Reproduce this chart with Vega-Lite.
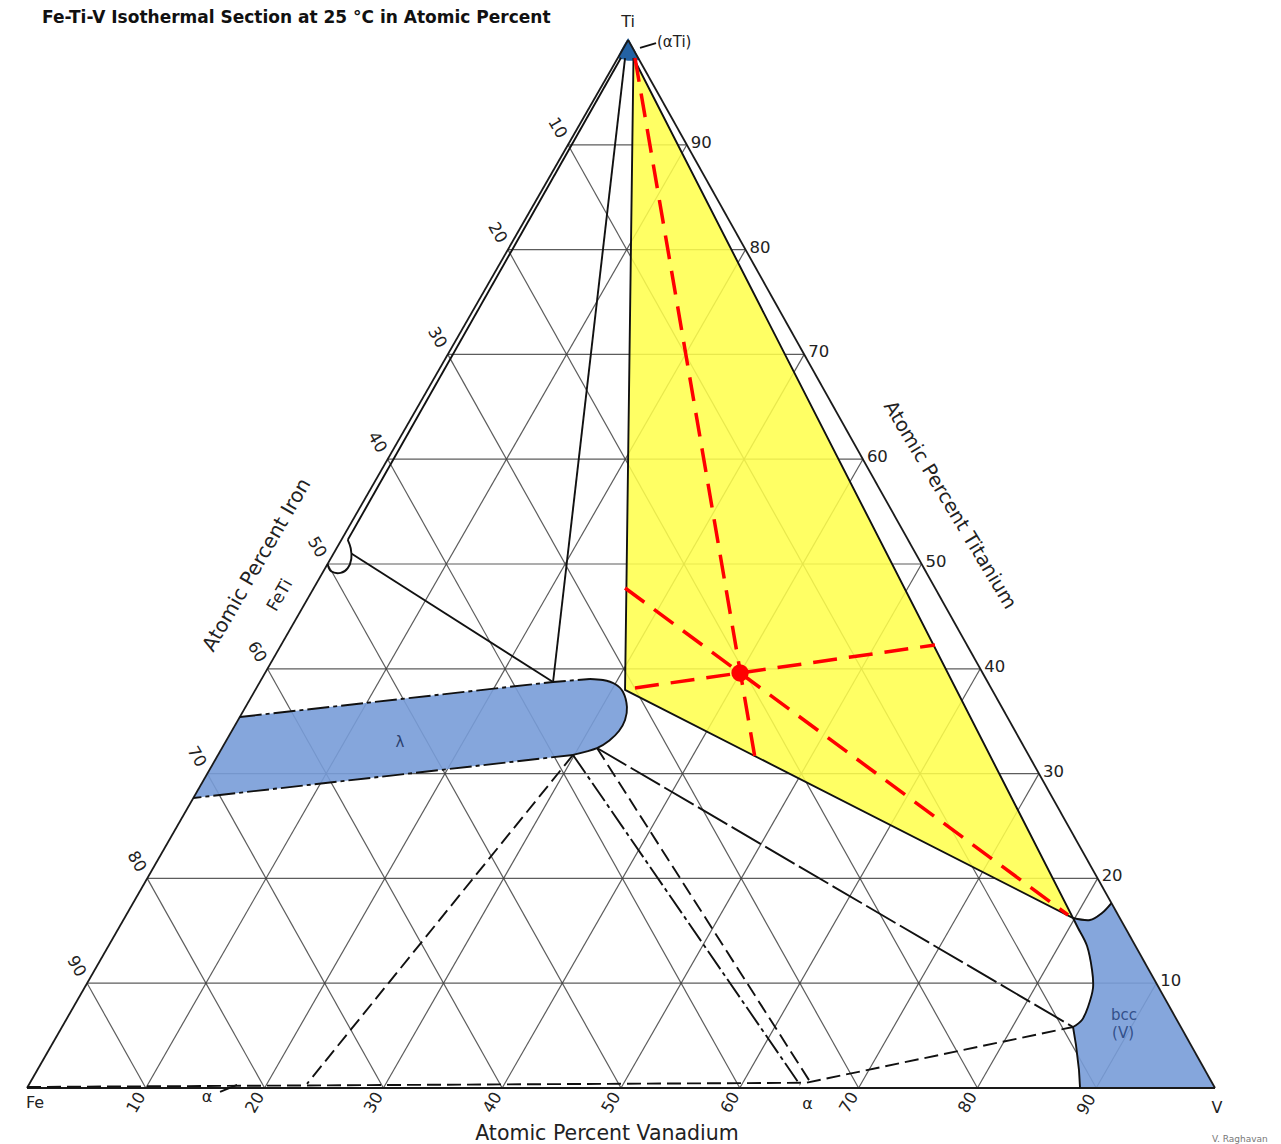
{
  "$schema": "https://vega.github.io/schema/vega-lite/v6.json",
  "width": 1188,
  "height": 1048,
  "autosize": {"type": "none"},
  "padding": {"left": 27, "top": 40, "right": 66, "bottom": 56},
  "background": "white",
  "config": {"view": {"stroke": null}, "text": {"font": "DejaVu Sans", "color": "#222"}},
  "datasets": {
    "grid": [
      {"x": 5.06, "y": 10, "x2": 95.06, "y2": 10},
      {"x": 10.12, "y": 20, "x2": 90.12, "y2": 20},
      {"x": 15.18, "y": 30, "x2": 85.18, "y2": 30},
      {"x": 20.24, "y": 40, "x2": 80.24, "y2": 40},
      {"x": 25.3, "y": 50, "x2": 75.3, "y2": 50},
      {"x": 30.36, "y": 60, "x2": 70.36, "y2": 60},
      {"x": 35.42, "y": 70, "x2": 65.42, "y2": 70},
      {"x": 40.48, "y": 80, "x2": 60.48, "y2": 80},
      {"x": 45.54, "y": 90, "x2": 55.54, "y2": 90},
      {"x": 10, "y": 0, "x2": 55.54, "y2": 90},
      {"x": 20, "y": 0, "x2": 60.48, "y2": 80},
      {"x": 30, "y": 0, "x2": 65.42, "y2": 70},
      {"x": 40, "y": 0, "x2": 70.36, "y2": 60},
      {"x": 50, "y": 0, "x2": 75.3, "y2": 50},
      {"x": 60, "y": 0, "x2": 80.24, "y2": 40},
      {"x": 70, "y": 0, "x2": 85.18, "y2": 30},
      {"x": 80, "y": 0, "x2": 90.12, "y2": 20},
      {"x": 90, "y": 0, "x2": 95.06, "y2": 10},
      {"x": 90, "y": 0, "x2": 45.54, "y2": 90},
      {"x": 80, "y": 0, "x2": 40.48, "y2": 80},
      {"x": 70, "y": 0, "x2": 35.42, "y2": 70},
      {"x": 60, "y": 0, "x2": 30.36, "y2": 60},
      {"x": 50, "y": 0, "x2": 25.3, "y2": 50},
      {"x": 40, "y": 0, "x2": 20.24, "y2": 40},
      {"x": 30, "y": 0, "x2": 15.18, "y2": 30},
      {"x": 20, "y": 0, "x2": 10.12, "y2": 20},
      {"x": 10, "y": 0, "x2": 5.06, "y2": 10}
    ],
    "edges": [
      {"x": 0, "y": 0, "x2": 100, "y2": 0},
      {"x": 0, "y": 0, "x2": 50.6, "y2": 100},
      {"x": 100, "y": 0, "x2": 50.6, "y2": 100}
    ],
    "shapes": [
      {"phase": "three", "ord": 1, "x": 51.05, "y": 98.28},
      {"phase": "three", "ord": 2, "x": 50.34, "y": 37.98},
      {"phase": "three", "ord": 3, "x": 88.05, "y": 16.22},
      {"phase": "lambda", "ord": 1, "x": 17.91, "y": 35.4},
      {"phase": "lambda", "ord": 2, "x": 44.28, "y": 38.74},
      {"phase": "lambda", "ord": 3, "x": 47.39, "y": 39.03},
      {"phase": "lambda", "ord": 4, "x": 48.48, "y": 38.93},
      {"phase": "lambda", "ord": 5, "x": 49.49, "y": 38.55},
      {"phase": "lambda", "ord": 6, "x": 50.17, "y": 37.79},
      {"phase": "lambda", "ord": 7, "x": 50.5, "y": 36.35},
      {"phase": "lambda", "ord": 8, "x": 50.34, "y": 35.11},
      {"phase": "lambda", "ord": 9, "x": 49.83, "y": 34.06},
      {"phase": "lambda", "ord": 10, "x": 49.07, "y": 33.21},
      {"phase": "lambda", "ord": 11, "x": 47.98, "y": 32.44},
      {"phase": "lambda", "ord": 12, "x": 45.96, "y": 31.78},
      {"phase": "lambda", "ord": 13, "x": 14.0, "y": 27.67},
      {"phase": "bcc", "ord": 1, "x": 91.28, "y": 17.65},
      {"phase": "bcc", "ord": 2, "x": 90.49, "y": 16.7},
      {"phase": "bcc", "ord": 3, "x": 89.48, "y": 16.03},
      {"phase": "bcc", "ord": 4, "x": 88.05, "y": 16.22},
      {"phase": "bcc", "ord": 5, "x": 88.47, "y": 15.27},
      {"phase": "bcc", "ord": 6, "x": 89.23, "y": 13.55},
      {"phase": "bcc", "ord": 7, "x": 89.65, "y": 11.26},
      {"phase": "bcc", "ord": 8, "x": 89.73, "y": 9.54},
      {"phase": "bcc", "ord": 9, "x": 89.31, "y": 7.73},
      {"phase": "bcc", "ord": 10, "x": 88.8, "y": 6.49},
      {"phase": "bcc", "ord": 11, "x": 88.05, "y": 5.82},
      {"phase": "bcc", "ord": 12, "x": 88.3, "y": 4.1},
      {"phase": "bcc", "ord": 13, "x": 88.55, "y": 1.72},
      {"phase": "bcc", "ord": 14, "x": 88.64, "y": 0},
      {"phase": "bcc", "ord": 15, "x": 100, "y": 0},
      {"phase": "aTi", "ord": 1, "x": 50.6, "y": 100.2},
      {"phase": "aTi", "ord": 2, "x": 49.78, "y": 98.44},
      {"phase": "aTi", "ord": 3, "x": 50.3, "y": 98.1},
      {"phase": "aTi", "ord": 4, "x": 50.9, "y": 98.02},
      {"phase": "aTi", "ord": 5, "x": 51.6, "y": 98.09}
    ],
    "lines": [
      {"id": "inner_left", "kind": "solid", "ord": 1, "x": 50.0, "y": 98.3},
      {"id": "inner_left", "kind": "solid", "ord": 2, "x": 27.0, "y": 52.3},
      {"id": "feti_lam", "kind": "solid", "ord": 1, "x": 27.3, "y": 51.0},
      {"id": "feti_lam", "kind": "solid", "ord": 2, "x": 44.28, "y": 38.74},
      {"id": "lam_ti", "kind": "solid", "ord": 1, "x": 44.28, "y": 38.74},
      {"id": "lam_ti", "kind": "solid", "ord": 2, "x": 50.34, "y": 98.28},
      {"id": "yellow", "kind": "solid", "ord": 1, "x": 51.05, "y": 98.28},
      {"id": "yellow", "kind": "solid", "ord": 2, "x": 50.34, "y": 37.98},
      {"id": "yellow", "kind": "solid", "ord": 3, "x": 88.05, "y": 16.22},
      {"id": "yellow", "kind": "solid", "ord": 4, "x": 51.05, "y": 98.28},
      {"id": "bcc_low", "kind": "solid", "ord": 1, "x": 88.05, "y": 5.82},
      {"id": "bcc_low", "kind": "solid", "ord": 2, "x": 88.3, "y": 4.1},
      {"id": "bcc_low", "kind": "solid", "ord": 3, "x": 88.55, "y": 1.72},
      {"id": "bcc_low", "kind": "solid", "ord": 4, "x": 88.64, "y": 0},
      {"id": "ati_leader", "kind": "solid", "ord": 1, "x": 51.6, "y": 99.24},
      {"id": "ati_leader", "kind": "solid", "ord": 2, "x": 52.95, "y": 99.71},
      {"id": "alpha_leader", "kind": "solid", "ord": 1, "x": 16.25, "y": -0.38},
      {"id": "alpha_leader", "kind": "solid", "ord": 2, "x": 17.68, "y": 0.29},
      {"id": "feti_loop", "kind": "curve", "ord": 1, "x": 25.3, "y": 50.0},
      {"id": "feti_loop", "kind": "curve", "ord": 2, "x": 25.6, "y": 49.3},
      {"id": "feti_loop", "kind": "curve", "ord": 3, "x": 26.4, "y": 49.15},
      {"id": "feti_loop", "kind": "curve", "ord": 4, "x": 27.0, "y": 49.6},
      {"id": "feti_loop", "kind": "curve", "ord": 5, "x": 27.3, "y": 50.5},
      {"id": "feti_loop", "kind": "curve", "ord": 6, "x": 27.25, "y": 51.5},
      {"id": "feti_loop", "kind": "curve", "ord": 7, "x": 27.0, "y": 52.3},
      {"id": "lam_end", "kind": "curve", "ord": 1, "x": 47.39, "y": 39.03},
      {"id": "lam_end", "kind": "curve", "ord": 2, "x": 48.48, "y": 38.93},
      {"id": "lam_end", "kind": "curve", "ord": 3, "x": 49.49, "y": 38.55},
      {"id": "lam_end", "kind": "curve", "ord": 4, "x": 50.17, "y": 37.79},
      {"id": "lam_end", "kind": "curve", "ord": 5, "x": 50.5, "y": 36.35},
      {"id": "lam_end", "kind": "curve", "ord": 6, "x": 50.34, "y": 35.11},
      {"id": "lam_end", "kind": "curve", "ord": 7, "x": 49.83, "y": 34.06},
      {"id": "lam_end", "kind": "curve", "ord": 8, "x": 49.07, "y": 33.21},
      {"id": "lam_end", "kind": "curve", "ord": 9, "x": 47.98, "y": 32.44},
      {"id": "lam_end", "kind": "curve", "ord": 10, "x": 45.96, "y": 31.78},
      {"id": "bcc_top", "kind": "curve", "ord": 1, "x": 88.05, "y": 16.22},
      {"id": "bcc_top", "kind": "curve", "ord": 2, "x": 89.48, "y": 16.03},
      {"id": "bcc_top", "kind": "curve", "ord": 3, "x": 90.49, "y": 16.7},
      {"id": "bcc_top", "kind": "curve", "ord": 4, "x": 91.28, "y": 17.65},
      {"id": "bcc_left", "kind": "curve", "ord": 1, "x": 88.05, "y": 16.22},
      {"id": "bcc_left", "kind": "curve", "ord": 2, "x": 88.47, "y": 15.27},
      {"id": "bcc_left", "kind": "curve", "ord": 3, "x": 89.23, "y": 13.55},
      {"id": "bcc_left", "kind": "curve", "ord": 4, "x": 89.65, "y": 11.26},
      {"id": "bcc_left", "kind": "curve", "ord": 5, "x": 89.73, "y": 9.54},
      {"id": "bcc_left", "kind": "curve", "ord": 6, "x": 89.31, "y": 7.73},
      {"id": "bcc_left", "kind": "curve", "ord": 7, "x": 88.8, "y": 6.49},
      {"id": "bcc_left", "kind": "curve", "ord": 8, "x": 88.05, "y": 5.82},
      {"id": "lam_top", "kind": "dashdot", "ord": 1, "x": 17.91, "y": 35.4},
      {"id": "lam_top", "kind": "dashdot", "ord": 2, "x": 44.28, "y": 38.74},
      {"id": "lam_top", "kind": "dashdot", "ord": 3, "x": 47.39, "y": 39.03},
      {"id": "lam_bot", "kind": "dashdot", "ord": 1, "x": 45.96, "y": 31.78},
      {"id": "lam_bot", "kind": "dashdot", "ord": 2, "x": 14.0, "y": 27.67},
      {"id": "lam_alpha_mid", "kind": "dashdot", "ord": 1, "x": 45.96, "y": 31.78},
      {"id": "lam_alpha_mid", "kind": "dashdot", "ord": 2, "x": 65.07, "y": 0.3},
      {"id": "lam_alpha_left", "kind": "dashed", "ord": 1, "x": 45.96, "y": 31.78},
      {"id": "lam_alpha_left", "kind": "dashed", "ord": 2, "x": 23.57, "y": 0.4},
      {"id": "lam_alpha_right", "kind": "dashed", "ord": 1, "x": 47.98, "y": 32.44},
      {"id": "lam_alpha_right", "kind": "dashed", "ord": 2, "x": 66.08, "y": 0.3},
      {"id": "alpha_bound", "kind": "dashed", "ord": 1, "x": 0, "y": 0.1},
      {"id": "alpha_bound", "kind": "dashed", "ord": 2, "x": 65.6, "y": 0.5},
      {"id": "alpha_bound", "kind": "dashed", "ord": 3, "x": 88.05, "y": 5.82},
      {"id": "lam_bcc", "kind": "longdash", "ord": 1, "x": 47.98, "y": 32.44},
      {"id": "lam_bcc", "kind": "longdash", "ord": 2, "x": 88.05, "y": 5.82}
    ],
    "redlines": [
      {"x": 51.18, "y": 98.28, "x2": 61.28, "y2": 31.49},
      {"x": 50.34, "y": 47.71, "x2": 87.63, "y2": 16.51},
      {"x": 51.18, "y": 38.17, "x2": 76.43, "y2": 42.27}
    ],
    "alloy": [{"x": 60.02, "y": 39.6}],
    "labels": [
      {"role": "title", "text": "Fe-Ti-V Isothermal Section at 25 °C in Atomic Percent", "x": 1.26, "y": 102.1},
      {"role": "ti", "text": "90", "x": 55.54, "y": 90},
      {"role": "ti", "text": "80", "x": 60.48, "y": 80},
      {"role": "ti", "text": "70", "x": 65.42, "y": 70},
      {"role": "ti", "text": "60", "x": 70.36, "y": 60},
      {"role": "ti", "text": "50", "x": 75.3, "y": 50},
      {"role": "ti", "text": "40", "x": 80.24, "y": 40},
      {"role": "ti", "text": "30", "x": 85.18, "y": 30},
      {"role": "ti", "text": "20", "x": 90.12, "y": 20},
      {"role": "ti", "text": "10", "x": 95.06, "y": 10},
      {"role": "fe", "text": "10", "x": 44.64, "y": 91.6},
      {"role": "fe", "text": "20", "x": 39.58, "y": 81.6},
      {"role": "fe", "text": "30", "x": 34.52, "y": 71.6},
      {"role": "fe", "text": "40", "x": 29.46, "y": 61.6},
      {"role": "fe", "text": "50", "x": 24.4, "y": 51.6},
      {"role": "fe", "text": "60", "x": 19.34, "y": 41.6},
      {"role": "fe", "text": "70", "x": 14.28, "y": 31.6},
      {"role": "fe", "text": "80", "x": 9.22, "y": 21.6},
      {"role": "fe", "text": "90", "x": 4.16, "y": 11.6},
      {"role": "v", "text": "10", "x": 9.2, "y": -1.4},
      {"role": "v", "text": "20", "x": 19.2, "y": -1.4},
      {"role": "v", "text": "30", "x": 29.2, "y": -1.4},
      {"role": "v", "text": "40", "x": 39.2, "y": -1.4},
      {"role": "v", "text": "50", "x": 49.2, "y": -1.4},
      {"role": "v", "text": "60", "x": 59.2, "y": -1.4},
      {"role": "v", "text": "70", "x": 69.2, "y": -1.4},
      {"role": "v", "text": "80", "x": 79.2, "y": -1.4},
      {"role": "v", "text": "90", "x": 89.2, "y": -1.6},
      {"role": "ti_title", "text": "Atomic Percent Titanium", "x": 77.69, "y": 55.63},
      {"role": "fe_title", "text": "Atomic Percent Iron", "x": 19.36, "y": 49.9},
      {"role": "feti", "text": "FeTi", "x": 21.3, "y": 47.0},
      {"role": "v_title", "text": "Atomic Percent Vanadium", "x": 48.82, "y": -4.39},
      {"role": "corner", "text": "Ti", "x": 50.59, "y": 101.72},
      {"role": "corner", "text": "Fe", "x": 0.67, "y": -1.43},
      {"role": "corner", "text": "V", "x": 100.17, "y": -1.9},
      {"role": "ati", "text": "(αTi)", "x": 53.03, "y": 99.81},
      {"role": "alpha", "text": "α", "x": 15.15, "y": -0.86},
      {"role": "alpha", "text": "α", "x": 65.7, "y": -1.5},
      {"role": "lam", "text": "λ", "x": 31.4, "y": 33.0},
      {"role": "bcc", "text": "bcc", "x": 92.34, "y": 6.97},
      {"role": "bcc", "text": "(V)", "x": 92.26, "y": 5.25},
      {"role": "credit", "text": "V. Raghavan", "x": 102.1, "y": -4.9}
    ]
  },
  "encoding": {
    "x": {"field": "x", "type": "quantitative", "scale": {"domain": [0, 100], "nice": false, "zero": false}, "axis": null},
    "y": {"field": "y", "type": "quantitative", "scale": {"domain": [0, 100], "nice": false, "zero": false}, "axis": null}
  },
  "layer": [
    {"data": {"name": "grid"}, "mark": {"type": "rule", "stroke": "#404040", "strokeWidth": 1.2, "strokeOpacity": 0.85},
     "encoding": {"x2": {"field": "x2"}, "y2": {"field": "y2"}}},
    {"data": {"name": "shapes"}, "transform": [{"filter": "datum.phase === 'three'"}],
     "mark": {"type": "line", "fill": "#ffff4a", "fillOpacity": 0.86, "strokeOpacity": 0},
     "encoding": {"order": {"field": "ord", "type": "quantitative"}}},
    {"data": {"name": "shapes"}, "transform": [{"filter": "datum.phase === 'lambda' || datum.phase === 'bcc'"}],
     "mark": {"type": "line", "fill": "#789cd8", "fillOpacity": 0.9, "strokeOpacity": 0},
     "encoding": {"order": {"field": "ord", "type": "quantitative"}, "detail": {"field": "phase"}}},
    {"data": {"name": "shapes"}, "transform": [{"filter": "datum.phase === 'aTi'"}],
     "mark": {"type": "line", "fill": "#2462a3", "fillOpacity": 1, "strokeOpacity": 0, "interpolate": "cardinal"},
     "encoding": {"order": {"field": "ord", "type": "quantitative"}}},
    {"data": {"name": "edges"}, "mark": {"type": "rule", "stroke": "#1a1a1a", "strokeWidth": 1.8},
     "encoding": {"x2": {"field": "x2"}, "y2": {"field": "y2"}}},
    {"data": {"name": "lines"}, "transform": [{"filter": "datum.kind === 'solid'"}],
     "mark": {"type": "line", "stroke": "#111", "strokeWidth": 1.9},
     "encoding": {"order": {"field": "ord", "type": "quantitative"}, "detail": {"field": "id"}}},
    {"data": {"name": "lines"}, "transform": [{"filter": "datum.kind === 'curve'"}],
     "mark": {"type": "line", "stroke": "#111", "strokeWidth": 1.9, "interpolate": "cardinal"},
     "encoding": {"order": {"field": "ord", "type": "quantitative"}, "detail": {"field": "id"}}},
    {"data": {"name": "lines"}, "transform": [{"filter": "datum.kind === 'dashdot'"}],
     "mark": {"type": "line", "stroke": "#111", "strokeWidth": 1.9, "strokeDash": [22, 4, 4, 4]},
     "encoding": {"order": {"field": "ord", "type": "quantitative"}, "detail": {"field": "id"}}},
    {"data": {"name": "lines"}, "transform": [{"filter": "datum.kind === 'dashed'"}],
     "mark": {"type": "line", "stroke": "#111", "strokeWidth": 1.9, "strokeDash": [14, 6]},
     "encoding": {"order": {"field": "ord", "type": "quantitative"}, "detail": {"field": "id"}}},
    {"data": {"name": "lines"}, "transform": [{"filter": "datum.kind === 'longdash'"}],
     "mark": {"type": "line", "stroke": "#111", "strokeWidth": 1.9, "strokeDash": [34, 5]},
     "encoding": {"order": {"field": "ord", "type": "quantitative"}, "detail": {"field": "id"}}},
    {"data": {"name": "redlines"}, "mark": {"type": "rule", "stroke": "#ff0000", "strokeWidth": 3.5, "strokeDash": [24, 12]},
     "encoding": {"x2": {"field": "x2"}, "y2": {"field": "y2"}}},
    {"data": {"name": "alloy"}, "mark": {"type": "point", "filled": true, "fill": "#ff0000", "fillOpacity": 1, "size": 300, "strokeOpacity": 0}},
    {"data": {"name": "labels"}, "transform": [{"filter": "datum.role === 'title'"}],
     "mark": {"type": "text", "align": "left", "baseline": "middle", "font": "DejaVu Sans", "fontWeight": "bold", "fontSize": 17, "color": "#111"},
     "encoding": {"text": {"field": "text"}}},
    {"data": {"name": "labels"}, "transform": [{"filter": "datum.role === 'ti'"}],
     "mark": {"type": "text", "align": "left", "baseline": "middle", "dx": 4, "dy": -2, "fontSize": 16.5},
     "encoding": {"text": {"field": "text"}}},
    {"data": {"name": "labels"}, "transform": [{"filter": "datum.role === 'fe'"}],
     "mark": {"type": "text", "align": "center", "baseline": "middle", "angle": 60, "fontSize": 16.5},
     "encoding": {"text": {"field": "text"}}},
    {"data": {"name": "labels"}, "transform": [{"filter": "datum.role === 'v'"}],
     "mark": {"type": "text", "align": "center", "baseline": "middle", "angle": -60, "fontSize": 16.5},
     "encoding": {"text": {"field": "text"}}},
    {"data": {"name": "labels"}, "transform": [{"filter": "datum.role === 'ti_title'"}],
     "mark": {"type": "text", "align": "center", "baseline": "middle", "angle": 59, "fontSize": 19.5},
     "encoding": {"text": {"field": "text"}}},
    {"data": {"name": "labels"}, "transform": [{"filter": "datum.role === 'fe_title'"}],
     "mark": {"type": "text", "align": "center", "baseline": "middle", "angle": -60, "fontSize": 20},
     "encoding": {"text": {"field": "text"}}},
    {"data": {"name": "labels"}, "transform": [{"filter": "datum.role === 'feti'"}],
     "mark": {"type": "text", "align": "center", "baseline": "middle", "angle": -60, "fontSize": 17},
     "encoding": {"text": {"field": "text"}}},
    {"data": {"name": "labels"}, "transform": [{"filter": "datum.role === 'v_title'"}],
     "mark": {"type": "text", "align": "center", "baseline": "middle", "fontSize": 20.5},
     "encoding": {"text": {"field": "text"}}},
    {"data": {"name": "labels"}, "transform": [{"filter": "datum.role === 'corner' || datum.role === 'alpha'"}],
     "mark": {"type": "text", "align": "center", "baseline": "middle", "fontSize": 16},
     "encoding": {"text": {"field": "text"}}},
    {"data": {"name": "labels"}, "transform": [{"filter": "datum.role === 'ati'"}],
     "mark": {"type": "text", "align": "left", "baseline": "middle", "fontSize": 15},
     "encoding": {"text": {"field": "text"}}},
    {"data": {"name": "labels"}, "transform": [{"filter": "datum.role === 'lam'"}],
     "mark": {"type": "text", "align": "center", "baseline": "middle", "fontSize": 15, "color": "#2a3f6e"},
     "encoding": {"text": {"field": "text"}}},
    {"data": {"name": "labels"}, "transform": [{"filter": "datum.role === 'bcc'"}],
     "mark": {"type": "text", "align": "center", "baseline": "middle", "fontSize": 15, "color": "#33508a"},
     "encoding": {"text": {"field": "text"}}},
    {"data": {"name": "labels"}, "transform": [{"filter": "datum.role === 'credit'"}],
     "mark": {"type": "text", "align": "center", "baseline": "middle", "fontSize": 9, "color": "#777"},
     "encoding": {"text": {"field": "text"}}}
  ]
}
